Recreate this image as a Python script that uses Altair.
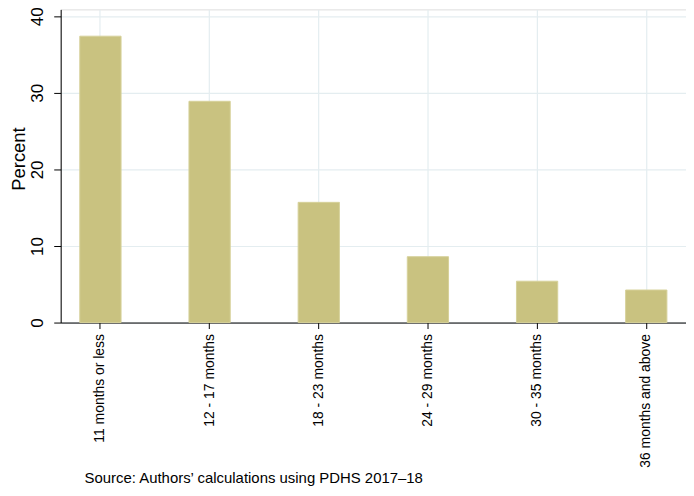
import altair as alt
import pandas as pd

categories = ["11 months or less", "12 - 17 months", "18 - 23 months",
              "24 - 29 months", "30 - 35 months", "36 months and above"]
percent = [37.4, 28.9, 15.7, 8.6, 5.4, 4.25]
y_ticks = [0, 10, 20, 30, 40]
source_note = "Source: Authors\u2019 calculations using PDHS 2017\u201318"

df = pd.DataFrame({"cat": categories, "pct": percent})

FONT = "Liberation Sans"

chart = alt.Chart(df).mark_bar(
    color="#c9c280", stroke="#d6d199", strokeWidth=1
).encode(
    x=alt.X("cat:N", sort=categories,
            scale=alt.Scale(paddingInner=0.622, paddingOuter=0.175),
            axis=alt.Axis(title=None, labelAngle=-90, labelFontSize=14,
                          labelFont=FONT, labelColor="#000", labelPadding=5,
                          tickSize=6, tickColor="#000", domainColor="#000",
                          grid=True, gridColor="#e4edf0", gridWidth=1.2,
                          bandPosition=0.5, labelLimit=300)),
    y=alt.Y("pct:Q", scale=alt.Scale(domain=[0, 40.9], nice=False, zero=True),
            axis=alt.Axis(title="Percent", values=y_ticks, labelAngle=-90,
                          labelAlign="center", labelBaseline="bottom",
                          labelFontSize=17, labelFont=FONT, labelColor="#000",
                          labelPadding=7, tickSize=7, tickColor="#000",
                          domainColor="#000", titleFontSize=18.5, titleFont=FONT,
                          titleFontWeight="normal", titleColor="#000",
                          titleAngle=-90, titleAlign="center",
                          titleBaseline="middle", titleX=-42, titleY=150,
                          grid=True, gridColor="#e4edf0", gridWidth=1.2))
).properties(
    width=629, height=315,
    title=alt.TitleParams(source_note, orient="bottom", anchor="start",
                          frame="group", fontSize=15, font=FONT,
                          fontWeight="normal", color="#000", dx=24, offset=4),
    autosize=alt.AutoSizeParams(type="none"),
    padding={"left": 53, "top": 0, "right": 0, "bottom": 164},
).configure_view(stroke=None).configure(background="white")

chart.save("out.html", embed_options={"renderer": "svg", "actions": False})
